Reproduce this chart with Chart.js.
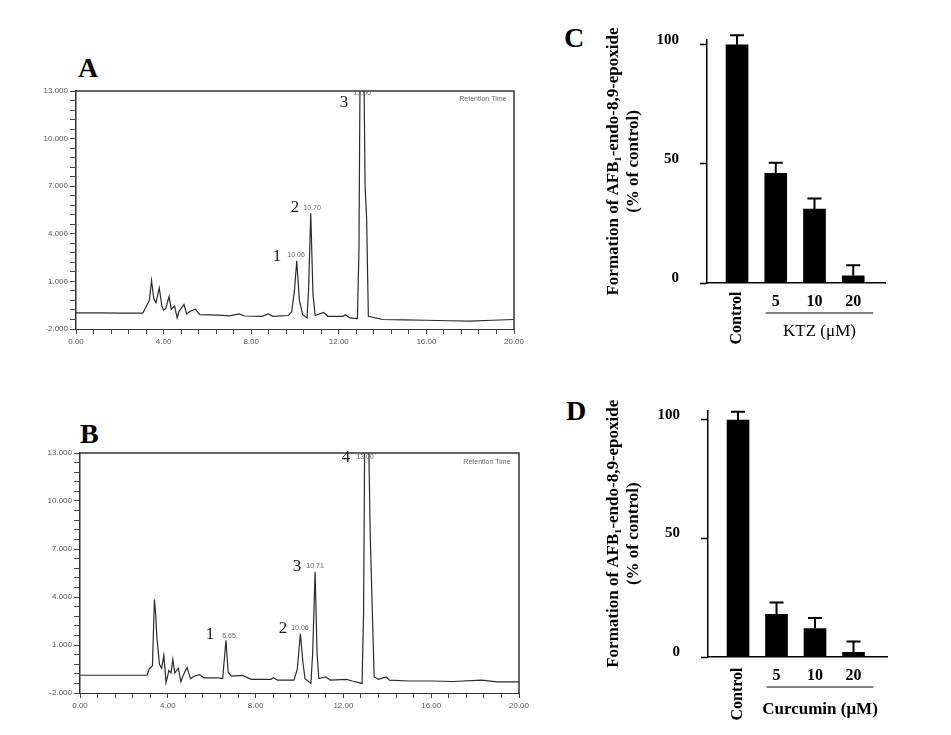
<!DOCTYPE html>
<html>
<head>
<meta charset="utf-8">
<script src="https://cdn.jsdelivr.net/npm/chart.js@4.4.1/dist/chart.umd.min.js"></script>
<style>
  html, body { margin: 0; padding: 0; background: #fff; }
  body { width: 951px; height: 735px; position: relative; overflow: hidden; }
  .panel { position: absolute; }
  .letter { position: absolute; font: bold 28px "Liberation Serif", serif; line-height: 28px; color: #000; }
</style>
</head>
<body>
<div class="letter" style="left:78px;top:54px">A</div>
<div class="letter" style="left:80px;top:420px">B</div>
<div class="letter" style="left:564px;top:24px">C</div>
<div class="letter" style="left:566px;top:397px">D</div>

<div class="panel" style="left:20px;top:80px;width:520px;height:280px"><canvas id="chartA"></canvas></div>
<div class="panel" style="left:20px;top:440px;width:520px;height:280px"><canvas id="chartB"></canvas></div>
<div class="panel" style="left:598px;top:20px;width:320px;height:340px"><canvas id="chartC"></canvas></div>
<div class="panel" style="left:598px;top:390px;width:320px;height:345px"><canvas id="chartD"></canvas></div>

<script>
// chromatogram axes (min / signal)
const chromXMajor = [0, 4, 8, 12, 16, 20];
const chromXLabels = ['0.00', '4.00', '8.00', '12.00', '16.00', '20.00'];
const chromYMajor = [-2, 1, 4, 7, 10, 13];
const chromYLabels = ['-2.000', '1.000', '4.000', '7.000', '10.000', '13.000'];

// panel A trace
const timesA = [0, 1, 2, 3.05, 3.2, 3.35, 3.45, 3.55, 3.65, 3.8, 3.92, 4.0, 4.1, 4.25, 4.35, 4.5, 4.62, 4.7,
  4.93, 5.05, 5.2, 5.45, 5.65, 6.5, 7.0, 7.45, 7.7, 8.5, 8.78, 9.0, 9.7, 9.85, 9.98, 10.08, 10.2, 10.35,
  10.55, 10.62, 10.72, 10.82, 10.92, 11.3, 11.5, 12.2, 12.3, 12.5, 12.85, 12.92, 12.97, 13.15, 13.2, 13.27,
  13.35, 14, 15, 16, 17, 18, 19, 20];
const signalA = [-0.99, -0.99, -1.0, -1.0, -0.6, -0.2, 1.06, -0.1, -0.35, 0.6, -0.55, -0.8, -0.7, 0.05, -0.75, -0.55, -1.3, -0.9,
  -0.45, -1.05, -0.9, -0.75, -1.1, -1.13, -1.17, -1.05, -1.18, -1.2, -1.05, -1.2, -1.15, -0.9, 0.5, 2.3, -0.2, -1.1,
  -1.3, 0.5, 5.3, 0.2, -1.15, -0.95, -1.2, -1.2, -1.1, -1.3, -1.35, 3, 14, 14, 7, 5,
  -1.2, -1.4, -1.42, -1.45, -1.48, -1.5, -1.45, -1.4];

// panel B trace
const timesB = [0, 1, 2, 3.05, 3.15, 3.3, 3.39, 3.45, 3.5, 3.62, 3.72, 3.82, 3.92, 4.05, 4.15, 4.23, 4.32, 4.48,
  4.6, 4.7, 4.88, 5.03, 5.2, 5.45, 5.65, 6.3, 6.5, 6.6, 6.65, 6.75, 6.9, 7.4, 7.8, 8.7, 8.8, 9.0, 9.75, 9.9,
  10.04, 10.15, 10.25, 10.52, 10.6, 10.71, 10.8, 10.88, 11.2, 11.4, 12.15, 12.4, 12.85, 12.92, 12.97, 13.15,
  13.22, 13.3, 13.4, 13.6, 13.95, 14.1, 15, 16, 17, 18.3, 19, 20];
const signalB = [-0.89, -0.89, -0.89, -0.89, -0.5, -0.3, 3.85, 2.9, 1.5, -0.2, -0.45, 0.35, -1.35, -0.6, -0.75, 0.1, -0.75, -0.45,
  -1.3, -0.9, -0.4, -1.1, -0.95, -0.85, -1.05, -1.05, -1.1, 0.5, 1.3, -0.7, -0.95, -0.9, -1.15, -1.15, -1.05, -1.2, -1.2, -0.5,
  1.7, 0.0, -1.1, -1.4, 0.5, 5.58, 0.5, -1.1, -1.0, -1.2, -1.15, -1.25, -1.4, 3, 14, 14,
  8.0, 4, -1.0, -1.15, -1.0, -1.2, -1.25, -1.25, -1.28, -1.2, -1.3, -1.3];

// peak annotations (time, signal, text)
const notesA = [
  { t: 9.18, v: 2.54, text: '1', big: true }, { t: 10.05, v: 2.67, text: '10.06' },
  { t: 10.0, v: 5.63, text: '2', big: true }, { t: 10.78, v: 5.63, text: '10.70' },
  { t: 12.24, v: 12.3, text: '3', big: true }, { t: 13.06, v: 12.87, text: '13.00' },
  { t: 18.58, v: 12.5, text: 'Retention Time' }
];
const notesB = [
  { t: 5.92, v: 1.63, text: '1', big: true }, { t: 6.79, v: 1.56, text: '6.65' },
  { t: 9.25, v: 2.0, text: '2', big: true }, { t: 10.02, v: 2.06, text: '10.06' },
  { t: 9.89, v: 5.88, text: '3', big: true }, { t: 10.71, v: 5.94, text: '10.71' },
  { t: 12.12, v: 12.69, text: '4', big: true }, { t: 12.98, v: 12.75, text: '13.00' },
  { t: 18.54, v: 12.44, text: 'Retention Time' }
];

// bar panels
const barCategories = ['Control', '5', '10', '20'];
const barTicks = [0, 50, 100];
const ktzMeans = [100, 46, 31, 3];
const ktzErrors = [4, 4.5, 4.5, 4.5];
const curcuminMeans = [100, 18, 12, 2];
const curcuminErrors = [3.5, 5, 4.5, 4.5];
const yTitle = ['Formation of AFB\u2081-endo-8,9-epoxide', '(% of control)'];

function minorTicks(from, to, step) {
  const out = [];
  const n = Math.round((to - from) / step);
  for (let k = 0; k <= n; k++) out.push(Math.round((from + k * step) * 1000) / 1000);
  return out;
}
function majorLabel(v, majors, labels) {
  const i = majors.findIndex(m => Math.abs(m - v) < 1e-6);
  return i >= 0 ? labels[i] : '';
}

const chromFrame = {
  id: 'chromFrame',
  afterDraw(chart) {
    const { ctx, chartArea: a, scales } = chart;
    ctx.save();
    ctx.strokeStyle = '#333';
    ctx.lineWidth = 1.5;
    ctx.beginPath();
    ctx.moveTo(a.left, a.top);
    ctx.lineTo(a.right, a.top);
    ctx.lineTo(a.right, a.bottom);
    ctx.stroke();
    ctx.textAlign = 'center';
    ctx.textBaseline = 'middle';
    chart.options.plugins.chromFrame.notes.forEach(n => {
      ctx.font = n.big ? '17px "Liberation Serif"' : '7px "Liberation Sans"';
      ctx.fillStyle = n.big ? '#222' : '#666';
      ctx.fillText(n.text, scales.x.getPixelForValue(n.t), scales.y.getPixelForValue(n.v));
    });
    ctx.restore();
  }
};

function chromChart(id, times, signal, notes, pad, yWidth) {
  return new Chart(document.getElementById(id), {
    type: 'line',
    data: {
      datasets: [{
        data: times.map((t, i) => ({ x: t, y: signal[i] })),
        borderColor: '#2b2b2b', borderWidth: 1.2, pointRadius: 0, tension: 0
      }]
    },
    options: {
      responsive: true, maintainAspectRatio: false, animation: false,
      layout: { padding: pad },
      plugins: { legend: { display: false }, tooltip: { enabled: false }, chromFrame: { notes: notes } },
      scales: {
        x: {
          type: 'linear', min: 0, max: 20,
          afterBuildTicks: s => { s.ticks = minorTicks(0, 20, 0.8).map(v => ({ value: v })); },
          afterFit: s => { s.height = 25; },
          ticks: {
            autoSkip: false, maxRotation: 0, padding: 3, color: '#555',
            font: { family: 'Liberation Sans', size: 8 },
            callback: v => majorLabel(v, chromXMajor, chromXLabels)
          },
          grid: { drawOnChartArea: false, tickLength: 5, color: '#444' },
          border: { color: '#333', width: 1 }
        },
        y: {
          min: -2, max: 13,
          afterBuildTicks: s => { s.ticks = minorTicks(-2, 13, 0.6).map(v => ({ value: v })); },
          afterFit: s => { s.width = yWidth; },
          ticks: {
            autoSkip: false, padding: 2, color: '#555',
            font: { family: 'Liberation Sans', size: 8 },
            callback: v => majorLabel(v, chromYMajor, chromYLabels)
          },
          grid: { drawOnChartArea: false, tickLength: 6, color: '#444' },
          border: { color: '#333', width: 1.5 }
        }
      }
    },
    plugins: [chromFrame]
  });
}

const barExtras = {
  id: 'barExtras',
  afterDatasetsDraw(chart) {
    const { ctx, chartArea: a, scales } = chart;
    const o = chart.options.plugins.barExtras;
    const meta = chart.getDatasetMeta(0);
    ctx.save();
    // error bars (upper only)
    ctx.strokeStyle = '#000';
    ctx.lineWidth = 2;
    meta.data.forEach((bar, i) => {
      const yt = scales.y.getPixelForValue(o.means[i] + o.errors[i]);
      ctx.beginPath();
      ctx.moveTo(bar.x, bar.y);
      ctx.lineTo(bar.x, yt);
      ctx.moveTo(bar.x - 7, yt);
      ctx.lineTo(bar.x + 7, yt);
      ctx.stroke();
    });
    // category labels
    ctx.fillStyle = '#000';
    ctx.textBaseline = 'middle';
    ctx.textAlign = 'center';
    ctx.font = 'bold 16px "Liberation Serif"';
    barCategories.forEach((c, i) => {
      const x = scales.x.getPixelForValue(i);
      if (i === 0) {
        ctx.save();
        ctx.translate(x, a.bottom + o.controlDy);
        ctx.rotate(-Math.PI / 2);
        ctx.fillText(c, 0, 0);
        ctx.restore();
      } else {
        ctx.fillText(c, x, a.bottom + 19);
      }
    });
    // group bracket and label
    const x1 = scales.x.getPixelForValue(1) - 10;
    const x2 = scales.x.getPixelForValue(3) + 20;
    ctx.lineWidth = 1.2;
    ctx.beginPath();
    ctx.moveTo(x1, a.bottom + 30);
    ctx.lineTo(x2, a.bottom + 30);
    ctx.stroke();
    ctx.font = o.groupFont;
    ctx.fillText(o.group, (x1 + x2) / 2, a.bottom + o.groupDy);
    ctx.restore();
  }
};

function barChart(id, means, errors, opts) {
  return new Chart(document.getElementById(id), {
    type: 'bar',
    data: {
      datasets: [{
        data: means.map((m, i) => ({ x: i, y: m })),
        backgroundColor: '#000', borderWidth: 0, barThickness: 22
      }]
    },
    options: {
      responsive: true, maintainAspectRatio: false, animation: false,
      layout: { padding: opts.pad },
      plugins: {
        legend: { display: false }, tooltip: { enabled: false },
        barExtras: { means: means, errors: errors, group: opts.group, groupFont: opts.groupFont, groupDy: opts.groupDy, controlDy: opts.controlDy }
      },
      scales: {
        x: {
          type: 'linear', min: opts.xMin, max: opts.xMax, offset: false,
          afterFit: s => { s.height = 0; },
          ticks: { display: false },
          grid: { display: false, drawTicks: false, offset: false },
          border: { color: '#000', width: 1.5 }
        },
        y: {
          min: 0, max: opts.yMax,
          afterBuildTicks: s => { s.ticks = barTicks.map(v => ({ value: v })); },
          afterFit: s => { s.width = opts.yWidth; s.paddingTop = 0; s.paddingBottom = 0; },
          ticks: { padding: 21, labelOffset: -5, color: '#000', font: { family: 'Liberation Serif', size: 15, weight: 'bold' } },
          grid: { drawOnChartArea: false, tickLength: 7, tickColor: '#000', tickWidth: 1.5 },
          border: { color: '#000', width: 1.5 },
          title: {
            display: true, text: yTitle, color: '#000',
            font: { family: 'Liberation Serif', size: 17, weight: 'bold' },
            padding: { top: 5, bottom: 0 }
          }
        }
      }
    },
    plugins: [barExtras]
  });
}

chromChart('chartA', timesA, signalA, notesA, { top: 11, right: 26, bottom: 6, left: 0 }, 56);
chromChart('chartB', timesB, signalB, notesB, { top: 13, right: 21, bottom: 2, left: 0 }, 60);

barChart('chartC', ktzMeans, ktzErrors, {
  pad: { top: 20, right: 33, bottom: 77, left: 0 }, yWidth: 109, yMax: 102, xMin: -0.775, xMax: 3.82,
  group: 'KTZ (\u03bcM)', groupFont: '17px "Liberation Serif"', groupDy: 49, controlDy: 35
});
barChart('chartD', curcuminMeans, curcuminErrors, {
  pad: { top: 20.5, right: 31, bottom: 78, left: 0 }, yWidth: 110, yMax: 104, xMin: -0.78, xMax: 3.87,
  group: 'Curcumin (\u03bcM)', groupFont: 'bold 17px "Liberation Serif"', groupDy: 53, controlDy: 37
});
</script>
</body>
</html>
